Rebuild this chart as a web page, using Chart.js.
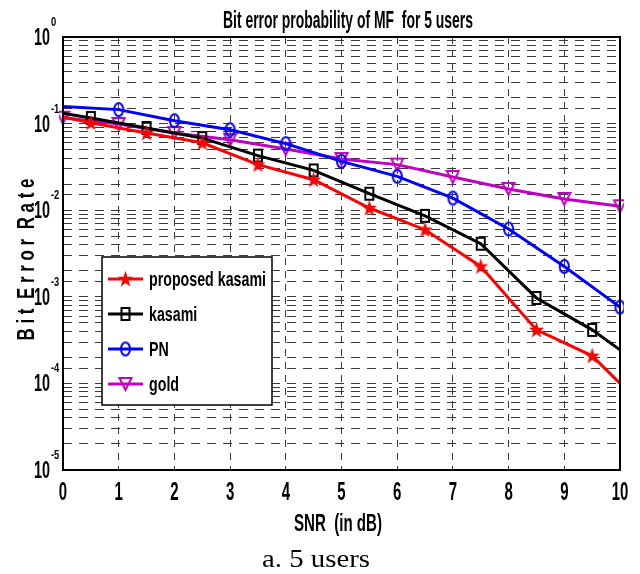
<!DOCTYPE html>
<html><head><meta charset="utf-8">
<script src="https://cdn.jsdelivr.net/npm/chart.js@4/dist/chart.umd.min.js"></script>
<style>html,body{margin:0;padding:0;background:#fff;}#wrap{width:640px;height:574px;}</style>
</head><body><div id="wrap"><canvas id="c" width="640" height="574"></canvas></div>
<script>
// ---- data ----
const snrHalf = [0, 0.5, 1.5, 2.5, 3.5, 4.5, 5.5, 6.5, 7.5, 8.5, 9.5, 10];
const snrInt = [0, 1, 2, 3, 4, 5, 6, 7, 8, 9, 10];
const proposedKasami = [0.12, 0.102, 0.078, 0.060, 0.0336, 0.0225, 0.0106, 0.00595, 0.00224, 0.000415, 0.000208, 0.0001];
const kasami = [0.132, 0.116, 0.089, 0.068, 0.0427, 0.0288, 0.0155, 0.0086, 0.0041, 0.00097, 0.000415, 0.000244];
const pn = [0.158, 0.145, 0.108, 0.085, 0.0587, 0.0366, 0.0246, 0.0138, 0.00606, 0.00224, 0.00076];
const gold = [0.117, 0.099, 0.078, 0.065, 0.051, 0.039, 0.0336, 0.0242, 0.0176, 0.0135, 0.0111];
const seriesLabels = ['proposed kasami', 'kasami', 'PN', 'gold'];
const xTickValues = [0, 1, 2, 3, 4, 5, 6, 7, 8, 9, 10];
const yDecades = [0, -1, -2, -3, -4, -5];
const titleText = 'Bit error probability of MF  for 5 users';
const xTitle = 'SNR  (in dB)';
const yTitle = 'B i t  E r r o r  R a t e';
const captionText = 'a. 5 users';

const SANS = '"Liberation Sans", Arial, sans-serif';
const SERIF = '"Liberation Serif", "Times New Roman", serif';

// ---- markers ----
function mk(w, h, fn) { const c = document.createElement('canvas'); c.width = w; c.height = h; fn(c.getContext('2d'), w, h); return c; }
const starImg = mk(17, 18, (g, w, h) => {
  g.beginPath();
  const cx = w / 2, cy = h / 2 + 0.5, R = 8, r = R * 0.4;
  for (let i = 0; i < 10; i++) {
    const a = -Math.PI / 2 + i * Math.PI / 5, rr = i % 2 ? r : R;
    const px = cx + rr * Math.cos(a), py = cy + rr * Math.sin(a) * 1.08;
    i ? g.lineTo(px, py) : g.moveTo(px, py);
  }
  g.closePath(); g.fillStyle = '#ff0000'; g.fill();
});
const squareImg = mk(12, 16, (g) => { g.lineWidth = 2; g.strokeStyle = '#000'; g.strokeRect(2, 2, 8, 12); });
const circleImg = mk(13, 17, (g) => { g.lineWidth = 2; g.strokeStyle = '#0000ff'; g.beginPath(); g.ellipse(6.5, 8.5, 4.5, 6.5, 0, 0, Math.PI * 2); g.stroke(); });
const triImg = mk(15, 16, (g) => { g.lineWidth = 2; g.strokeStyle = '#c000c0'; g.beginPath(); g.moveTo(1.5, 2); g.lineTo(13.5, 2); g.lineTo(7.5, 14); g.closePath(); g.stroke(); });

const edgeHidden = (arr) => arr.map((_, i) => (i === 0 || i === arr.length - 1) ? 0 : 6);

const datasets = [
  { label: seriesLabels[0], data: snrHalf.map((x, i) => ({ x, y: proposedKasami[i] })), borderColor: '#ff0000', pointStyle: starImg, pointRadius: edgeHidden(snrHalf), img: starImg },
  { label: seriesLabels[1], data: snrHalf.map((x, i) => ({ x, y: kasami[i] })), borderColor: '#000000', pointStyle: squareImg, pointRadius: edgeHidden(snrHalf), img: squareImg },
  { label: seriesLabels[2], data: snrInt.map((x, i) => ({ x, y: pn[i] })), borderColor: '#0000ff', pointStyle: circleImg, pointRadius: snrInt.map((_, i) => i === 0 ? 0 : 6), img: circleImg },
  { label: seriesLabels[3], data: snrInt.map((x, i) => ({ x, y: gold[i] })), borderColor: '#c000c0', pointStyle: triImg, pointRadius: 6, img: triImg }
].map(d => Object.assign({ borderWidth: 3, fill: false, tension: 0, pointBorderWidth: 0, pointBackgroundColor: 'transparent', clip: 4 }, d));

// draw text squeezed horizontally: either to a target width or by a fixed factor
function txt(g, s, x, y, font, align, fit, isWidth) {
  g.save();
  g.font = font; g.textAlign = align; g.textBaseline = 'alphabetic';
  const sx = isWidth ? fit / g.measureText(s).width : fit;
  g.translate(x, y); g.scale(sx, 1); g.fillText(s, 0, 0);
  g.restore();
}

const decor = {
  id: 'decor',
  afterDatasetsDraw(chart) {
    const g = chart.ctx, a = chart.chartArea, ys = chart.scales.y, xs = chart.scales.x;
    g.save();
    g.strokeStyle = '#000'; g.lineWidth = 2; g.setLineDash([]);
    g.strokeRect(a.left, a.top, a.right - a.left, a.bottom - a.top);
    g.fillStyle = '#000';
    // y tick labels 10^n
    yDecades.forEach(e => {
      const py = ys.getPixelForValue(Math.pow(10, e));
      txt(g, '10', a.left - 13, py + 8, 'bold 24px ' + SANS, 'right', 0.6, false);
      txt(g, String(e), a.left - 12, py - 11, 'bold 13px ' + SANS, 'left', 0.72, false);
    });
    // x tick labels
    xTickValues.forEach(v => {
      txt(g, String(v), xs.getPixelForValue(v), 500, 'bold 25px ' + SANS, 'center', 0.6, false);
    });
    // legend
    const lx = 102, ly = 257, lw = 170, lh = 148;
    g.fillStyle = '#fff'; g.fillRect(lx, ly, lw, lh);
    g.strokeStyle = '#000'; g.lineWidth = 1.5; g.strokeRect(lx, ly, lw, lh);
    g.font = 'bold 21px ' + SANS;
    const legScale = 117 / g.measureText(seriesLabels[0]).width;
    chart.data.datasets.forEach((d, i) => {
      const y = 279 + i * 35;
      g.strokeStyle = d.borderColor; g.lineWidth = 3;
      g.beginPath(); g.moveTo(108, y); g.lineTo(143, y); g.stroke();
      g.drawImage(d.img, 125.5 - d.img.width / 2, y - d.img.height / 2);
      g.fillStyle = '#000';
      txt(g, d.label, 149, y + 7, 'bold 21px ' + SANS, 'left', legScale, false);
    });
    g.fillStyle = '#000';
    // title
    txt(g, titleText, 348, 28, 'bold 23px ' + SANS, 'center', 250, true);
    // x title
    txt(g, xTitle, 338, 531, 'bold 24px ' + SANS, 'center', 88, true);
    // y title
    g.save(); g.translate(34, 259.5); g.rotate(-Math.PI / 2);
    txt(g, yTitle, 0, 0, 'bold 23px ' + SANS, 'center', 162, true);
    g.restore();
    // caption
    txt(g, captionText, 316, 567, '26px ' + SERIF, 'center', 108, true);
    g.restore();
  }
};

new Chart(document.getElementById('c'), {
  type: 'line',
  data: { datasets },
  options: {
    responsive: false, animation: false,
    layout: { padding: { top: 37, right: 20, left: 0, bottom: 0 } },
    plugins: { legend: { display: false }, title: { display: false }, tooltip: { enabled: false } },
    scales: {
      x: {
        type: 'linear', min: 0, max: 10,
        ticks: { display: false, stepSize: 1 },
        grid: { color: '#3a3a3a', lineWidth: 1, drawTicks: false },
        border: { display: false, dash: [7, 6] },
        afterFit: s => { s.height = 104; }
      },
      y: {
        type: 'logarithmic', min: 1e-5, max: 1,
        ticks: { display: false },
        grid: { color: '#3a3a3a', lineWidth: 1, drawTicks: false },
        border: { display: false, dash: [9, 7] },
        afterFit: s => { s.width = 63; }
      }
    }
  },
  plugins: [decor]
});
</script></body></html>
